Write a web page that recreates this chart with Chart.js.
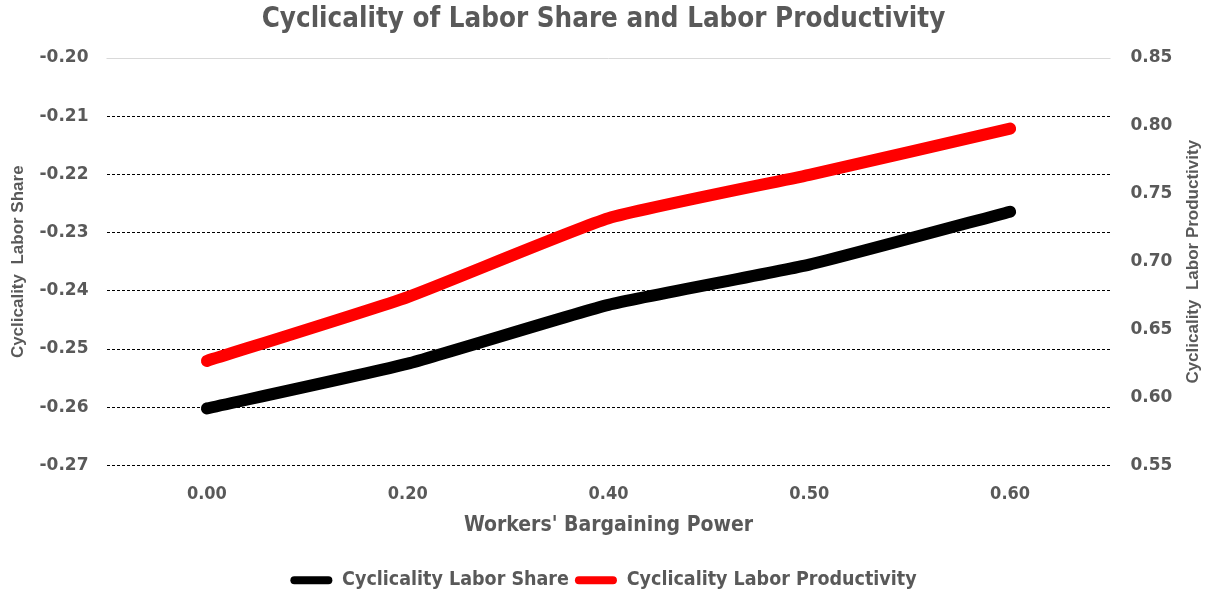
<!DOCTYPE html>
<html>
<head>
<meta charset="utf-8">
<script src="https://cdn.jsdelivr.net/npm/chart.js@4"></script>
<style>
  html, body { margin: 0; padding: 0; background: #ffffff; }
  #wrap { width: 1207px; height: 592px; position: relative; }
</style>
</head>
<body>
<div id="wrap"><canvas id="chart" width="1207" height="592"></canvas></div>
<script>
// Workers' bargaining power (x categories)
const categories = ['0.00', '0.20', '0.40', '0.50', '0.60'];
// Cyclicality of the labor share (left axis)
const laborShare = [-0.2602, -0.2525, -0.2424, -0.2355, -0.2264];
// Cyclicality of labor productivity (right axis)
const laborProductivity = [0.627, 0.674, 0.732, 0.764, 0.798];

const TEXT = '#595959';
const NARROW = '"Liberation Sans Narrow", "DejaVu Sans Condensed", "Liberation Sans", sans-serif';
const TICKFONT = '"DejaVu Sans", Verdana, sans-serif';
const TITLEFONT = '"Liberation Sans", Arial, sans-serif';
const RIGHT_TITLE = 'Cyclicality  Labor Productivity';

// solid light line along the top of the left scale
const topLine = {
  id: 'topLine',
  beforeDatasetsDraw(chart) {
    const s = chart.scales.y;
    const y = Math.round(s.getPixelForValue(s.max)) + 0.5;
    const ctx = chart.ctx;
    ctx.save();
    ctx.strokeStyle = '#d9d9d9';
    ctx.lineWidth = 1;
    ctx.beginPath();
    ctx.moveTo(chart.chartArea.left, y);
    ctx.lineTo(chart.chartArea.right, y);
    ctx.stroke();
    ctx.restore();
  }
};

// right axis title, read from bottom to top
const rightTitle = {
  id: 'rightTitle',
  afterDraw(chart) {
    const s = chart.scales.y1;
    const ctx = chart.ctx;
    const cy = (chart.chartArea.top + chart.chartArea.bottom) / 2;
    ctx.save();
    ctx.translate(s.right - 14, cy);
    ctx.rotate(-Math.PI / 2);
    ctx.font = 'bold 17px ' + TITLEFONT;
    ctx.fillStyle = TEXT;
    ctx.textAlign = 'center';
    ctx.textBaseline = 'middle';
    ctx.fillText(RIGHT_TITLE, 0, 0);
    ctx.restore();
  }
};

const legendItems = (chart) =>
  Chart.defaults.plugins.legend.labels.generateLabels(chart).map((item) => ({
    ...item,
    lineWidth: 0,
    strokeStyle: 'rgba(0,0,0,0)'
  }));

new Chart(document.getElementById('chart'), {
  type: 'line',
  data: {
    labels: categories,
    datasets: [
      {
        label: 'Cyclicality Labor Share',
        data: laborShare,
        yAxisID: 'y',
        borderColor: '#000000',
        backgroundColor: '#000000',
        borderWidth: 12,
        borderCapStyle: 'round',
        borderJoinStyle: 'round',
        pointRadius: 0,
        tension: 0.15
      },
      {
        label: 'Cyclicality Labor Productivity',
        data: laborProductivity,
        yAxisID: 'y1',
        borderColor: '#ff0000',
        backgroundColor: '#ff0000',
        borderWidth: 12,
        borderCapStyle: 'round',
        borderJoinStyle: 'round',
        pointRadius: 0,
        tension: 0.15
      }
    ]
  },
  options: {
    responsive: false,
    animation: false,
    layout: { padding: { left: 0, right: 0, top: 0, bottom: -8 } },
    plugins: {
      title: {
        display: true,
        text: 'Cyclicality of Labor Share and Labor Productivity',
        color: TEXT,
        font: { family: NARROW, size: 27.5, weight: 'bold' },
        padding: { top: 3, bottom: 22 }
      },
      legend: {
        position: 'bottom',
        labels: {
          color: TEXT,
          font: { family: NARROW, size: 19.5, weight: 'bold' },
          boxWidth: 42,
          boxHeight: 8,
          useBorderRadius: true,
          borderRadius: 4,
          padding: 6,
          generateLabels: legendItems
        }
      },
      tooltip: { enabled: false }
    },
    scales: {
      x: {
        offset: true,
        afterFit(scale) { scale.height = 99; },
        grid: { display: false, drawTicks: false },
        border: { display: false },
        ticks: {
          color: TEXT,
          font: { family: NARROW, size: 18, weight: 'bold' },
          padding: 18
        },
        title: {
          display: true,
          text: "Workers' Bargaining Power",
          color: TEXT,
          font: { family: NARROW, size: 21, weight: 'bold' },
          padding: { top: 2, bottom: 26 }
        }
      },
      y: {
        position: 'left',
        min: -0.27,
        max: -0.20,
        afterFit(scale) { scale.width = 106.5; },
        ticks: {
          stepSize: 0.01,
          color: TEXT,
          font: { family: TICKFONT, size: 17, weight: 'bold' },
          padding: 18,
          callback: (v) => Number(v).toFixed(2)
        },
        grid: {
          color: (ctx) => (ctx.tick && Math.abs(ctx.tick.value - (-0.20)) < 1e-9) ? 'rgba(0,0,0,0)' : '#000000',
          lineWidth: 1,
          drawTicks: false
        },
        border: { display: false, dash: [3, 2] },
        title: {
          display: true,
          text: 'Cyclicality  Labor Share',
          color: TEXT,
          font: { family: TITLEFONT, size: 17, weight: 'bold' },
          padding: { top: 8, bottom: 0 }
        }
      },
      y1: {
        position: 'right',
        min: 0.55,
        max: 0.85,
        afterFit(scale) { scale.width = 96.5; },
        ticks: {
          stepSize: 0.05,
          color: TEXT,
          font: { family: TICKFONT, size: 17, weight: 'bold' },
          padding: 20,
          callback: (v) => Number(v).toFixed(2)
        },
        grid: { display: false, drawTicks: false },
        border: { display: false }
      }
    }
  },
  plugins: [topLine, rightTitle]
});
</script>
</body>
</html>
